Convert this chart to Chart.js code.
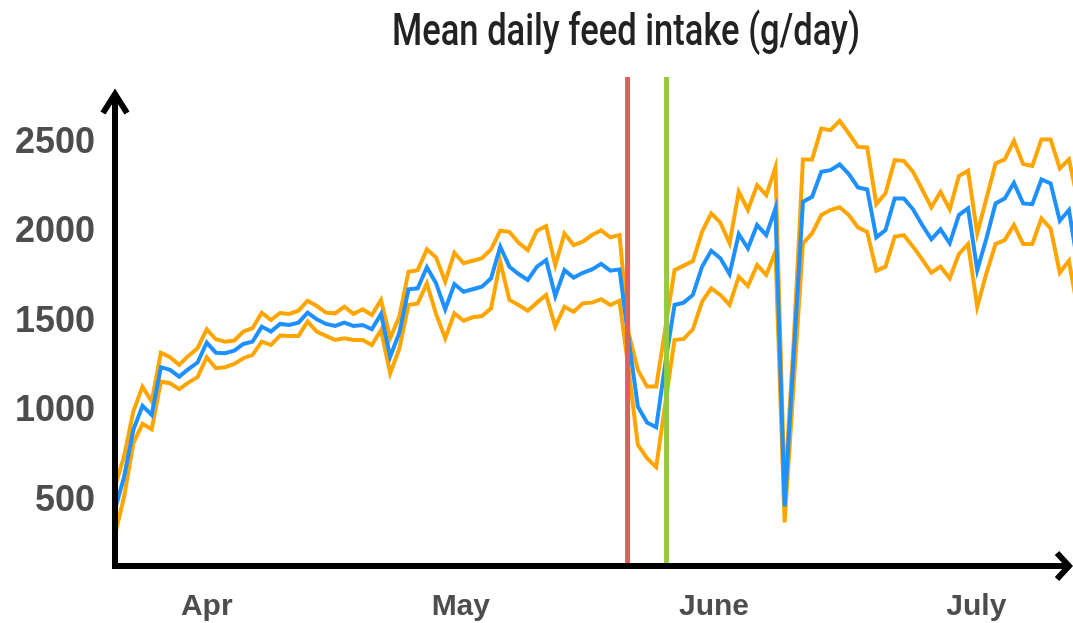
<!DOCTYPE html>
<html>
<head>
<meta charset="utf-8">
<script src="https://cdn.jsdelivr.net/npm/chart.js@4.4.1/dist/chart.umd.min.js"></script>
<style>
  html, body { margin: 0; padding: 0; background: #fff; }
  canvas { display: block; }
</style>
</head>
<body>
<canvas id="chart" width="1073" height="623"></canvas>
<script>
const chartTitle = "Mean daily feed intake (g/day)";

// daily values, one entry per day from late March onwards
const meanIntake = [
  450, 636, 897, 1031, 980, 1247, 1232, 1194, 1236, 1273,
  1384, 1328, 1325, 1340, 1377, 1390, 1474, 1446, 1489, 1483,
  1496, 1552, 1515, 1489, 1478, 1496, 1478, 1483, 1459, 1545,
  1306, 1440, 1683, 1688, 1806, 1716, 1571, 1712, 1669, 1683,
  1697, 1744, 1921, 1809, 1768, 1735, 1809, 1846, 1645, 1790,
  1748, 1775, 1794, 1825, 1787, 1794, 1400, 1027, 937, 911,
  1270, 1595, 1608, 1651, 1809, 1898, 1856, 1768, 1992, 1912,
  2042, 1986, 2135, 468, 1321, 2172, 2200, 2340, 2349, 2381,
  2327, 2252, 2241, 1973, 2014, 2191, 2191, 2130, 2042, 1962,
  2018, 1940, 2098, 2135, 1790, 1967, 2163, 2191, 2278, 2163,
  2159, 2297, 2275, 2066, 2126, 1806
];
const upperBand = [
  580, 750, 1000, 1138, 1055, 1328, 1303, 1260, 1310, 1353,
  1459, 1403, 1390, 1396, 1446, 1465, 1552, 1511, 1550, 1545,
  1563, 1619, 1589, 1552, 1548, 1585, 1545, 1571, 1539, 1623,
  1409, 1530, 1781, 1790, 1906, 1861, 1725, 1887, 1828, 1842,
  1856, 1906, 2010, 2004, 1943, 1902, 2010, 2036, 1818, 1995,
  1930, 1949, 1986, 2012, 1973, 1986, 1437, 1232, 1139, 1139,
  1465, 1790, 1815, 1840, 2004, 2107, 2055, 1940, 2228, 2126,
  2265, 2209, 2364, 550, 1400, 2409, 2409, 2582, 2573, 2625,
  2554, 2479, 2476, 2159, 2219, 2405, 2401, 2340, 2241, 2141,
  2228, 2130, 2316, 2346, 1995, 2191, 2386, 2409, 2513, 2383,
  2372, 2521, 2521, 2358, 2409, 2170
];
const lowerBand = [
  310, 525, 822, 930, 900, 1166, 1157, 1124, 1161, 1191,
  1303, 1241, 1247, 1265, 1297, 1316, 1390, 1371, 1424, 1422,
  1422, 1502, 1446, 1422, 1399, 1409, 1399, 1399, 1371, 1455,
  1213, 1350, 1595, 1604, 1716, 1545, 1409, 1548, 1507, 1526,
  1533, 1576, 1837, 1623, 1595, 1563, 1608, 1651, 1474, 1585,
  1557, 1604, 1608, 1627, 1595, 1619, 1232, 813, 738, 688,
  1046, 1399, 1405, 1459, 1613, 1688, 1651, 1595, 1753, 1701,
  1818, 1763, 1893, 379, 1157, 1940, 1995, 2098, 2126, 2141,
  2098, 2029, 2004, 1787, 1809, 1977, 1986, 1921, 1850, 1775,
  1809, 1744, 1880, 1936, 1585, 1772, 1936, 1958, 2042, 1936,
  1936, 2079, 2023, 1775, 1842, 1554
];

const yTicks = [500, 1000, 1500, 2000, 2500];
const monthTicks = [10, 37.7, 65.3, 93.9];
const monthLabels = ["Apr", "May", "June", "July"];
const markerDays = [55.88, 60.13];
const markerColors = ["#df5f5f", "#96c93d"];
const yMin = 135, yMax = 2870;
const xMax = 104.44;

const toPoints = arr => arr.map((v, i) => ({ x: i, y: v }));
const markerLine = d => [{ x: d, y: yMin }, { x: d, y: yMax }];

// black axes with arrow heads
const arrowAxes = {
  id: "arrowAxes",
  afterDatasetsDraw(chart) {
    const { ctx, chartArea: a } = chart;
    ctx.save();
    ctx.strokeStyle = "#000";
    ctx.lineWidth = 6;
    ctx.lineJoin = "miter";
    ctx.beginPath();
    ctx.moveTo(a.left, a.bottom + 3);
    ctx.lineTo(a.left, a.top + 16);
    ctx.stroke();
    ctx.beginPath();
    ctx.moveTo(a.left - 12, a.top + 36);
    ctx.lineTo(a.left, a.top + 17);
    ctx.lineTo(a.left + 12, a.top + 36);
    ctx.stroke();
    ctx.beginPath();
    ctx.moveTo(a.left - 3, a.bottom);
    ctx.lineTo(a.right - 4, a.bottom);
    ctx.stroke();
    ctx.beginPath();
    ctx.moveTo(a.right - 16, a.bottom - 13);
    ctx.lineTo(a.right - 4, a.bottom);
    ctx.lineTo(a.right - 16, a.bottom + 13);
    ctx.stroke();
    ctx.restore();
  }
};

// condensed title
const narrowTitle = {
  id: "narrowTitle",
  afterDraw(chart) {
    const ctx = chart.ctx;
    ctx.save();
    ctx.font = "500 44px Roboto";
    ctx.fillStyle = "#222";
    ctx.textAlign = "center";
    ctx.textBaseline = "alphabetic";
    const w = ctx.measureText(chartTitle).width;
    ctx.translate(626, 45);
    ctx.scale(468 / w, 1);
    ctx.fillText(chartTitle, 0, 0);
    ctx.restore();
  }
};

new Chart(document.getElementById("chart"), {
  type: "line",
  data: {
    datasets: [
      { label: "start", data: markerLine(markerDays[0]), borderColor: markerColors[0], borderWidth: 5 },
      { label: "end", data: markerLine(markerDays[1]), borderColor: markerColors[1], borderWidth: 5 },
      { label: "Mean", data: toPoints(meanIntake), borderColor: "#1e90ff", borderWidth: 4 },
      { label: "Upper", data: toPoints(upperBand), borderColor: "#ffa500", borderWidth: 4 },
      { label: "Lower", data: toPoints(lowerBand), borderColor: "#ffa500", borderWidth: 4 }
    ]
  },
  options: {
    responsive: false,
    animation: false,
    layout: { padding: { top: 77, left: 0, right: 0, bottom: 0 } },
    elements: { point: { radius: 0 }, line: { tension: 0 } },
    plugins: { legend: { display: false }, tooltip: { enabled: false }, title: { display: false } },
    scales: {
      x: {
        type: "linear",
        min: 0,
        max: xMax,
        grid: { display: false },
        border: { display: false },
        afterFit(scale) { scale.height = 57; },
        afterBuildTicks(scale) { scale.ticks = monthTicks.map(v => ({ value: v })); },
        ticks: {
          autoSkip: false,
          maxRotation: 0,
          padding: 15,
          color: "#4d4d4d",
          font: { family: "Liberation Sans", size: 30, weight: "bold" },
          callback: v => monthLabels[monthTicks.indexOf(v)]
        }
      },
      y: {
        min: yMin,
        max: yMax,
        grid: { display: false },
        border: { display: false },
        afterFit(scale) { scale.width = 115; },
        afterBuildTicks(scale) { scale.ticks = yTicks.map(v => ({ value: v })); },
        ticks: {
          padding: 12,
          color: "#4d4d4d",
          font: { family: "Liberation Sans", size: 36, weight: "bold" },
          callback: v => String(v)
        }
      }
    }
  },
  plugins: [arrowAxes, narrowTitle]
});
</script>
</body>
</html>
